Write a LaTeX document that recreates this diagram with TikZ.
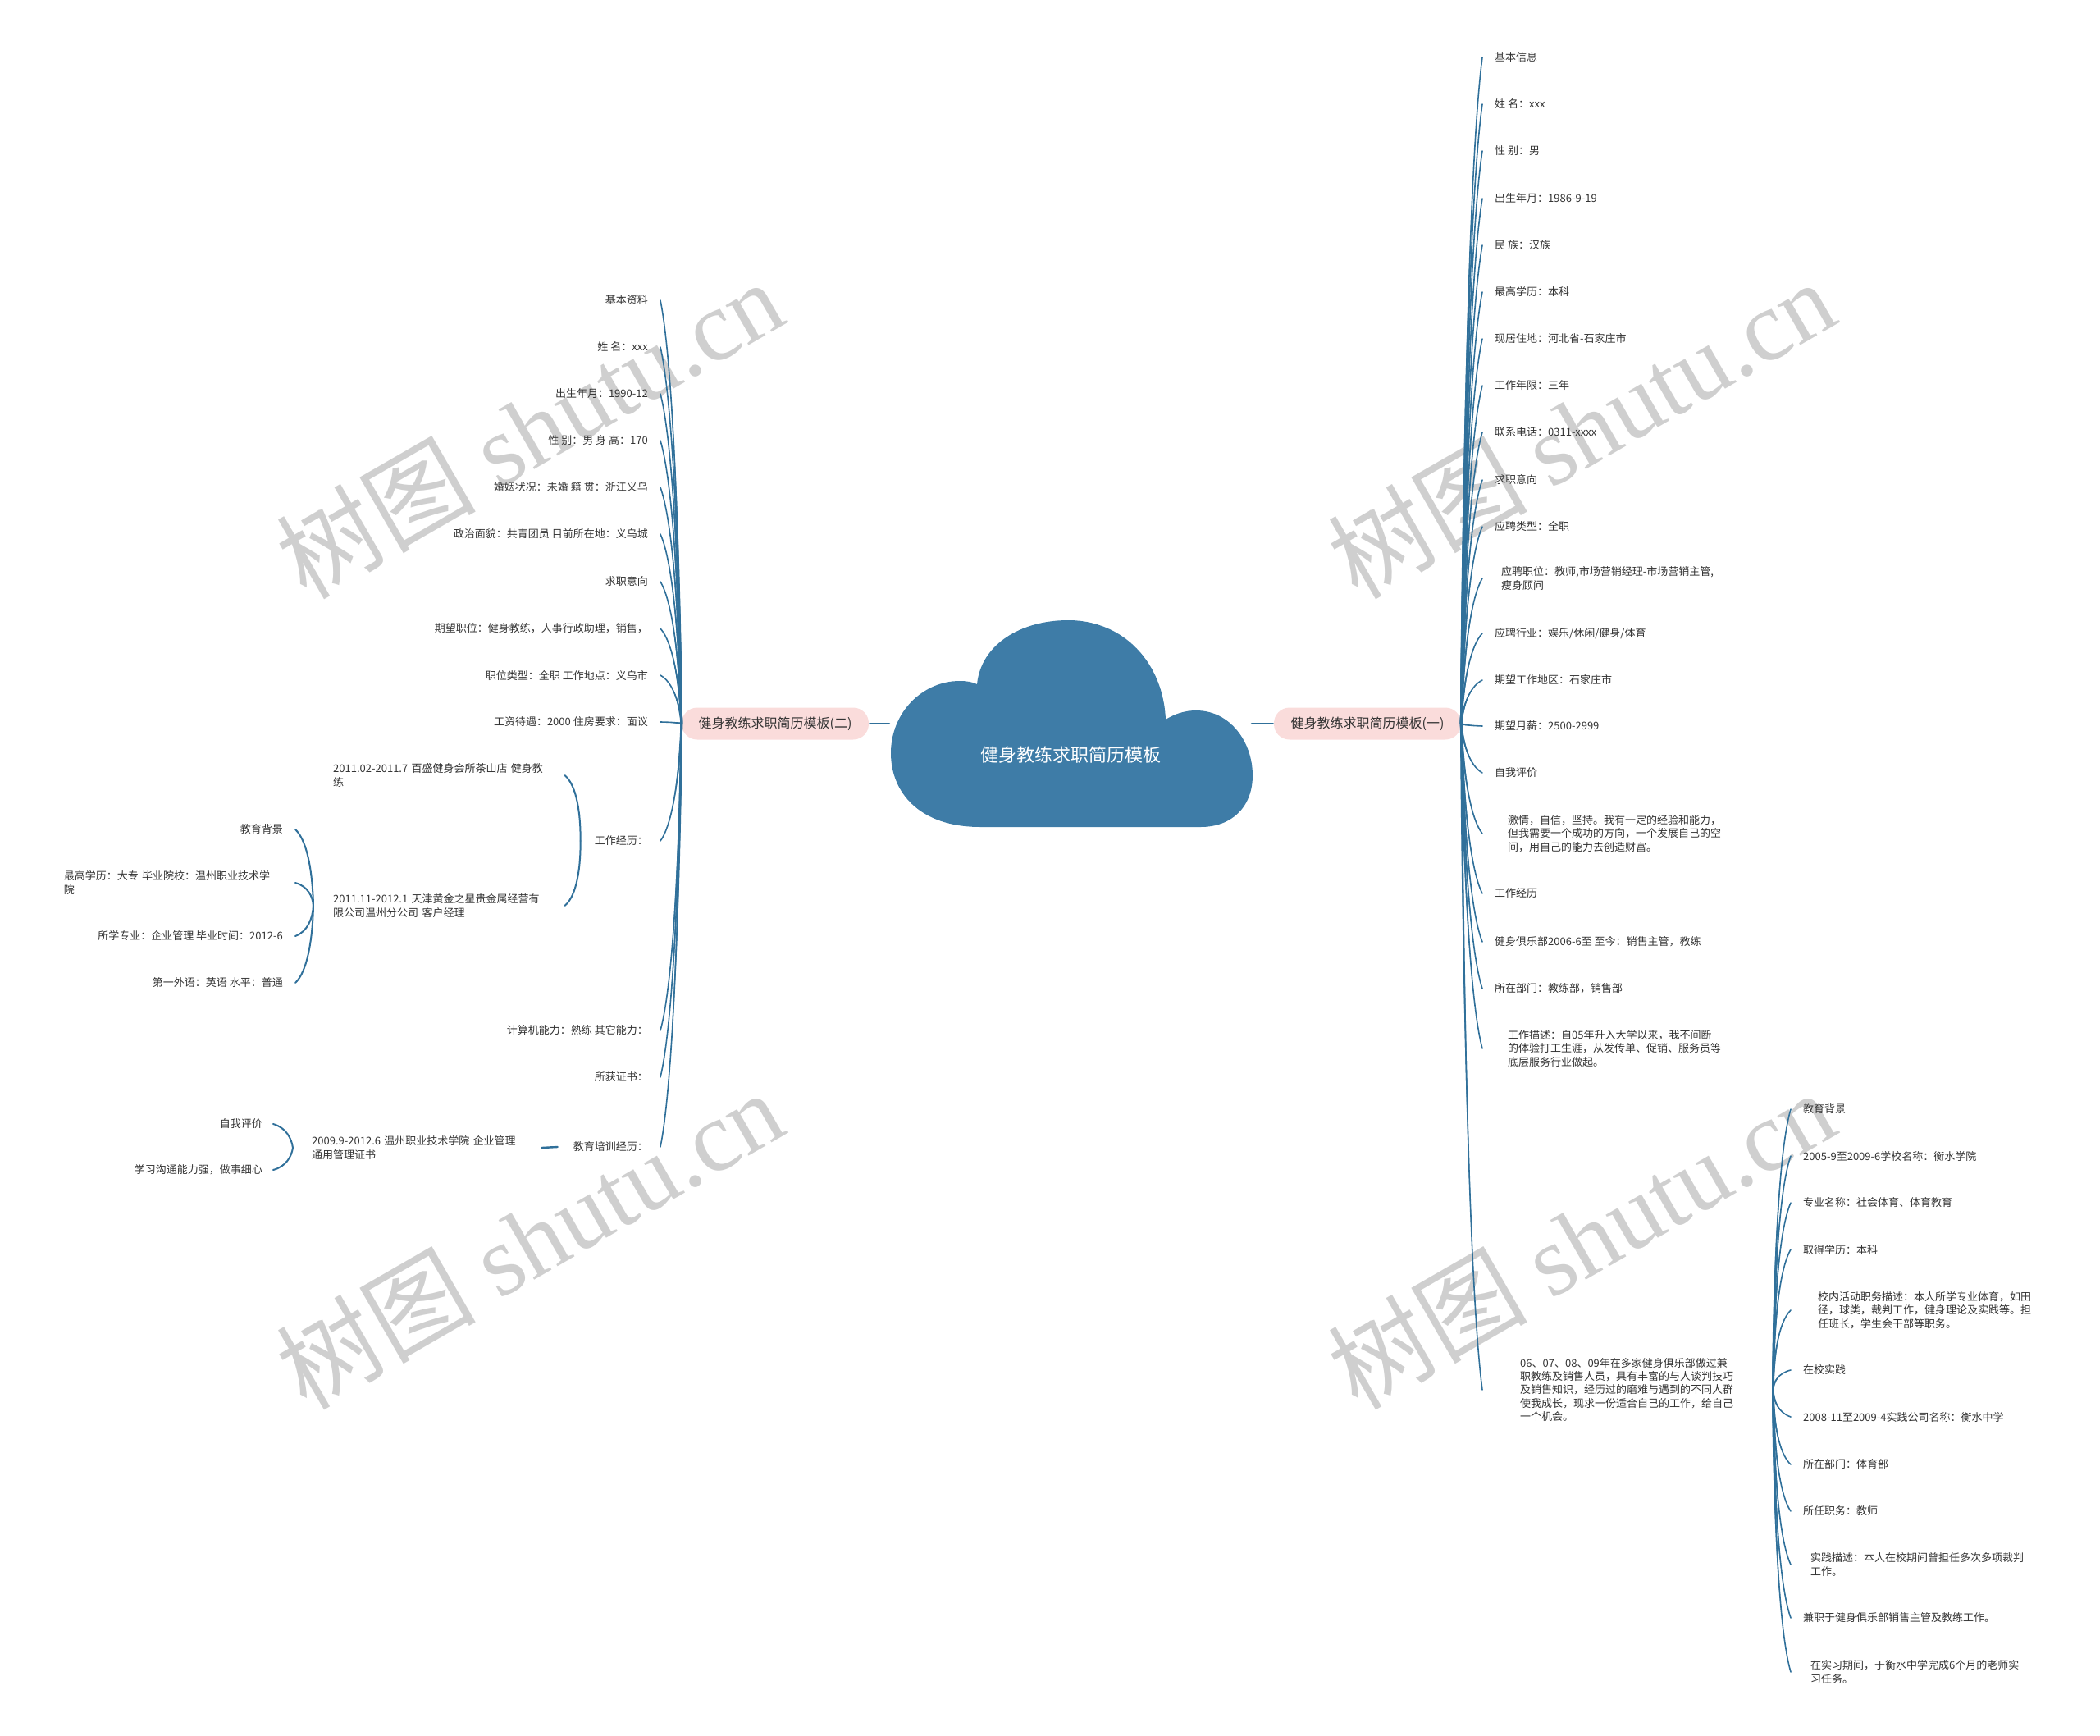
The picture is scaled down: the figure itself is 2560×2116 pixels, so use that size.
\documentclass[tikz,border=0pt]{standalone}
\usepackage{fontspec}
\setmainfont{Noto Sans CJK SC}
\newfontfamily\wmserif{Liberation Serif}
\usetikzlibrary{calc}
\definecolor{lc}{HTML}{30709A}
\definecolor{cloudc}{HTML}{3E7CA7}
\definecolor{pinkc}{HTML}{FADCDB}
\definecolor{txtc}{HTML}{333333}
% plain connector
\newcommand\mmconn[3]{\draw[conn] (#1) .. controls ($(#1)!0.4!(#2)+(#3*8,0)$) and ($(#1)!0.85!(#2)+(#3*12,0)$) .. (#2);}
% tapered connector (thick at the parent, thin at the child)
\newcommand\mmtaper[3]{%
  \coordinate (mA) at ($(#1)!0.4!(#2)+(#3*8,0)$);
  \coordinate (mB) at ($(#1)!0.85!(#2)+(#3*12,0)$);
  \coordinate (tA) at ($(#1)!1.3pt!90:(#2)$);
  \coordinate (tB) at ($(#1)!1.3pt!-90:(#2)$);
  \fill[lc] (tA) .. controls ($(mA)+(tA)-(#1)$) and (mB) .. (#2)
     .. controls (mB) and ($(mA)+(tB)-(#1)$) .. (tB) -- cycle;
  \draw[conn, line width=1.6pt] (#1) .. controls (mA) and (mB) .. (#2);}
\begin{document}
\begin{tikzpicture}[x=1pt,y=-1pt,
  conn/.style={draw=lc, line width=2pt, line cap=round},
  leaf/.style={font=\fontsize{13}{16.3}\selectfont, text=txtc, inner sep=0pt, align=left},
  lleaf/.style={leaf, anchor=east},
  rleaf/.style={leaf, anchor=west},
  branch/.style={fill=pinkc, rounded corners=19pt, minimum width=228pt, minimum height=39pt, inner sep=0pt, font=\fontsize{16}{18}\selectfont, text=txtc},
  wm/.style={text=black!19, rotate=30, font=\fontsize{122}{122}\selectfont, inner sep=0pt}
]
\useasboundingbox (0,0) rectangle (2560,2116);
% watermarks
\node[wm] (wm1) at (645,522) {树图 {\wmserif shutu.cn}};
\node[wm] (wm2) at (1927,522) {树图 {\wmserif shutu.cn}};
\node[wm] (wm3) at (645,1510) {树图 {\wmserif shutu.cn}};
\node[wm] (wm4) at (1927,1510) {树图 {\wmserif shutu.cn}};

% cloud
\fill[cloudc] (1195,1008) .. controls (1120,1008) and (1086,965) .. (1086,918)
  .. controls (1086,868) and (1125,830) .. (1170,830)
  .. controls (1178,830) and (1185,831) .. (1191,834)
  .. controls (1196,785) and (1245,756) .. (1302,756)
  .. controls (1370,756) and (1418,808) .. (1421,877)
  .. controls (1432,870) and (1445,866) .. (1458,866)
  .. controls (1500,866) and (1527,905) .. (1527,945)
  .. controls (1527,985) and (1500,1008) .. (1464,1008) -- cycle;
\node[text=white, font=\fontsize{22}{24}\selectfont, inner sep=0pt] (title) at (1305,920) {健身教练求职简历模板};
\coordinate (cL) at (1084,882);
\coordinate (cR) at (1526,882);

% branches
\node[branch] (B2) at (945,882) {健身教练求职简历模板(二)};
\node[branch] (B1) at (1667,882) {健身教练求职简历模板(一)};
\draw[conn, line width=2.6pt] (cL) -- ($(B2.east)+(1,0)$);
\draw[conn, line width=2.6pt] (cR) -- ($(B1.west)+(-1,0)$);

% ---------------- left side ----------------
\node[lleaf] (L1) at (790,366) {基本资料};
\node[lleaf] (L2) at (790,423) {姓 名：xxx};
\node[lleaf] (L3) at (790,480) {出生年月：1990-12};
\node[lleaf] (L4) at (790,537) {性 别：男 身 高：170};
\node[lleaf] (L5) at (790,594) {婚姻状况：未婚 籍 贯：浙江义乌};
\node[lleaf] (L6) at (790,651) {政治面貌：共青团员 目前所在地：义乌城};
\node[lleaf] (L7) at (790,709) {求职意向};
\node[lleaf] (L8) at (790,766) {期望职位：健身教练，人事行政助理，销售，};
\node[lleaf] (L9) at (790,823) {职位类型：全职 工作地点：义乌市};
\node[lleaf] (L10) at (790,880) {工资待遇：2000 住房要求：面议};
\node[lleaf] (L11) at (790,1025) {工作经历：};
\node[lleaf] (L12) at (790,1256) {计算机能力：熟练 其它能力：};
\node[lleaf] (L13) at (790,1313) {所获证书：};
\node[lleaf] (L14) at (790,1398) {教育培训经历：};
\foreach \i in {1,...,14}{
  \coordinate (L\i e) at ($(L\i.east)+(15,0)$);
  \mmtaper{B2.west}{L\i e}{1}
}

% work experience
\node[rleaf, text width=265pt] (W1) at (406,945) {2011.02-2011.7 百盛健身会所茶山店 健身教\\练};
\node[rleaf, text width=265pt] (W2) at (406,1104) {2011.11-2012.1 天津黄金之星贵金属经营有\\限公司温州分公司 客户经理};
\coordinate (Wp) at ($(L11.west)+(-17,0)$);
\coordinate (W1e) at ($(W1.east)+(17,0)$);
\coordinate (W2e) at ($(W2.east)+(17,0)$);
\mmconn{Wp}{W1e}{1}
\mmconn{Wp}{W2e}{1}

% education under W2
\node[lleaf] (E1) at (345,1011) {教育背景};
\node[lleaf, text width=267pt] (E2) at (345,1076) {最高学历：大专 毕业院校：温州职业技术学\\院};
\node[lleaf] (E3) at (345,1141) {所学专业：企业管理 毕业时间：2012-6};
\node[lleaf] (E4) at (345,1198) {第一外语：英语 水平：普通};
\coordinate (Ep) at ($(W2.west)+(-24,0)$);
\foreach \i in {1,...,4}{
  \coordinate (E\i e) at ($(E\i.east)+(15,0)$);
  \mmconn{Ep}{E\i e}{1}
}

% training
\node[rleaf, text width=265pt] (T1) at (380,1399) {2009.9-2012.6 温州职业技术学院 企业管理\\通用管理证书};
\coordinate (L14a) at ($(L14.west)+(-19,0)$);
\coordinate (T1a) at ($(T1.east)+(15,0)$);
\draw[conn, line width=2.4pt] (L14a) -- (T1a);
\node[lleaf] (S1) at (320,1370) {自我评价};
\node[lleaf] (S2) at (320,1426) {学习沟通能力强，做事细心};
\coordinate (Tp) at ($(T1.west)+(-23,0)$);
\coordinate (S1e) at ($(S1.east)+(13,0)$);
\coordinate (S2e) at ($(S2.east)+(13,0)$);
\mmconn{Tp}{S1e}{1}
\mmconn{Tp}{S2e}{1}

% ---------------- right side ----------------
\node[rleaf] (R1) at (1822,70) {基本信息};
\node[rleaf] (R2) at (1822,127) {姓 名：xxx};
\node[rleaf] (R3) at (1822,184) {性 别：男};
\node[rleaf] (R4) at (1822,242) {出生年月：1986-9-19};
\node[rleaf] (R5) at (1822,299) {民 族：汉族};
\node[rleaf] (R6) at (1822,356) {最高学历：本科};
\node[rleaf] (R7) at (1822,413) {现居住地：河北省-石家庄市};
\node[rleaf] (R8) at (1822,470) {工作年限：三年};
\node[rleaf] (R9) at (1822,527) {联系电话：0311-xxxx};
\node[rleaf] (R10) at (1822,585) {求职意向};
\node[rleaf] (R11) at (1822,642) {应聘类型：全职};
\node[rleaf] (R12) at (1830,705) {应聘职位：教师,市场营销经理-市场营销主管,\\瘦身顾问};
\node[rleaf] (R13) at (1822,772) {应聘行业：娱乐/休闲/健身/体育};
\node[rleaf] (R14) at (1822,829) {期望工作地区：石家庄市};
\node[rleaf] (R15) at (1822,885) {期望月薪：2500-2999};
\node[rleaf] (R16) at (1822,942) {自我评价};
\node[rleaf] (R17) at (1838,1016) {激情，自信，坚持。我有一定的经验和能力，\\但我需要一个成功的方向，一个发展自己的空\\间，用自己的能力去创造财富。};
\node[rleaf] (R18) at (1822,1089) {工作经历};
\node[rleaf] (R19) at (1822,1148) {健身俱乐部2006-6至 至今：销售主管，教练};
\node[rleaf] (R20) at (1822,1205) {所在部门：教练部，销售部};
\node[rleaf] (R21) at (1838,1278) {工作描述：自05年升入大学以来，我不间断\\的体验打工生涯，从发传单、促销、服务员等\\底层服务行业做起。};
\node[rleaf, text width=262pt] (R22) at (1853,1694) {06、07、08、09年在多家健身俱乐部做过兼\\职教练及销售人员，具有丰富的与人谈判技巧\\及销售知识，经历过的磨难与遇到的不同人群\\使我成长，现求一份适合自己的工作，给自己\\一个机会。};
\foreach \i in {1,...,11,13,14,15,16,18,19,20}{
  \coordinate (R\i e) at ($(R\i.west)+(-15,0)$);
}
\coordinate (R12e) at ($(R12.west)+(-23,0)$);
\coordinate (R17e) at ($(R17.west)+(-31,0)$);
\coordinate (R21e) at ($(R21.west)+(-31,0)$);
\coordinate (R22e) at ($(R22.west)+(-46,0)$);
\foreach \i in {1,...,22}{
  \mmtaper{B1.east}{R\i e}{-1}
}

% education under R22
\node[rleaf] (C1) at (2198,1352) {教育背景};
\node[rleaf] (C2) at (2198,1409) {2005-9至2009-6学校名称：衡水学院};
\node[rleaf] (C3) at (2198,1466) {专业名称：社会体育、体育教育};
\node[rleaf] (C4) at (2198,1523) {取得学历：本科};
\node[rleaf] (C5) at (2216,1597) {校内活动职务描述：本人所学专业体育，如田\\径，球类，裁判工作，健身理论及实践等。担\\任班长，学生会干部等职务。};
\node[rleaf] (C6) at (2198,1670) {在校实践};
\node[rleaf] (C7) at (2198,1727) {2008-11至2009-4实践公司名称：衡水中学};
\node[rleaf] (C8) at (2198,1785) {所在部门：体育部};
\node[rleaf] (C9) at (2198,1842) {所任职务：教师};
\node[rleaf] (C10) at (2207,1907) {实践描述：本人在校期间曾担任多次多项裁判\\工作。};
\node[rleaf] (C11) at (2198,1972) {兼职于健身俱乐部销售主管及教练工作。};
\node[rleaf] (C12) at (2207,2038) {在实习期间，于衡水中学完成6个月的老师实\\习任务。};
\coordinate (Cp) at ($(R22.east)+(46,0)$);
\foreach \i in {1,2,3,4,6,7,8,9,11}{
  \coordinate (C\i e) at ($(C\i.west)+(-15,0)$);
}
\coordinate (C5e) at ($(C5.west)+(-33,0)$);
\coordinate (C10e) at ($(C10.west)+(-24,0)$);
\coordinate (C12e) at ($(C12.west)+(-24,0)$);
\foreach \i in {1,...,12}{
  \mmtaper{Cp}{C\i e}{-1}
}
\end{tikzpicture}
\end{document}
